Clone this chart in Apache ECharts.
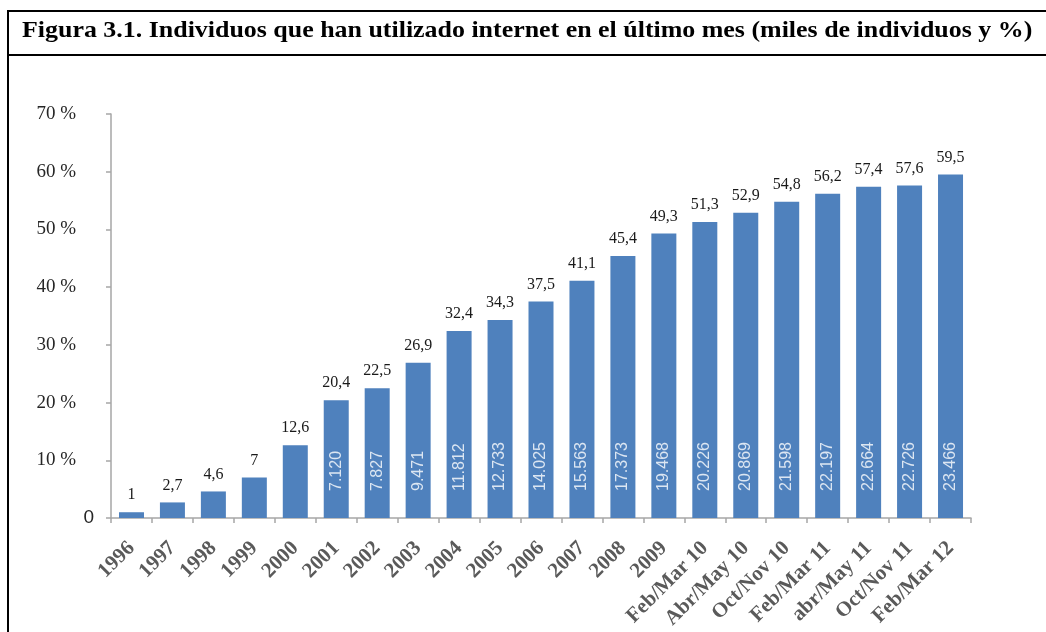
<!DOCTYPE html>
<html>
<head>
<meta charset="utf-8">
<script src="https://cdn.jsdelivr.net/npm/echarts@6/dist/echarts.min.js"></script>
<style>
html,body{margin:0;padding:0;background:#fff;}
#c{width:1046px;height:632px;}
</style>
</head>
<body>
<div id="c"></div>
<script>
var titleText = 'Figura 3.1. Individuos que han utilizado internet en el último mes (miles de individuos y %)';
var categories = ['1996','1997','1998','1999','2000','2001','2002','2003','2004','2005','2006','2007','2008','2009',
  'Feb/Mar 10','Abr/May 10','Oct/Nov 10','Feb/Mar 11','abr/May 11','Oct/Nov 11','Feb/Mar 12'];
var percentValues = [1, 2.7, 4.6, 7, 12.6, 20.4, 22.5, 26.9, 32.4, 34.3, 37.5, 41.1, 45.4, 49.3, 51.3, 52.9, 54.8, 56.2, 57.4, 57.6, 59.5];
var milesValues = [null, null, null, null, null, 7120, 7827, 9471, 11812, 12733, 14025, 15563, 17373, 19468, 20226, 20869, 21598, 22197, 22664, 22726, 23466];
var yTicks = [0, 10, 20, 30, 40, 50, 60, 70];

function fmtPct(v){ return String(v).replace('.', ','); }
function fmtMiles(v){
  if (v == null) return '';
  return String(v).replace(/\B(?=(\d{3})+(?!\d))/g, '.');
}

var chart = echarts.init(document.getElementById('c'), null, {renderer:'canvas'});
var option = {
  animation: false,
  backgroundColor: '#ffffff',
  grid: { left: 111, right: 75, top: 114, bottom: 114, containLabel: false },
  graphic: [
    { type: 'rect', shape: { x: 8, y: 11, width: 1050, height: 640 }, style: { fill: 'none', stroke: '#000', lineWidth: 2 }, z: 100 },
    { type: 'line', shape: { x1: 8, y1: 55, x2: 1050, y2: 55 }, style: { stroke: '#000', lineWidth: 2 }, z: 100 },
    { type: 'text', x: 22, y: 19, scaleX: 1.08, style: { text: titleText, font: 'bold 24px "Liberation Serif", "Times New Roman", serif', fill: '#000' }, z: 100 }
  ],
  xAxis: {
    type: 'category',
    data: categories,
    axisLine: { lineStyle: { color: '#a6a6a6', width: 1.5 } },
    axisTick: { show: true, alignWithLabel: false, length: 5, lineStyle: { color: '#a6a6a6', width: 1.5 } },
    axisLabel: {
      interval: 0, rotate: 45, margin: 27,
      fontFamily: '"Liberation Serif", "Times New Roman", serif',
      fontSize: 21, fontWeight: 'bold', color: '#5a5a5a'
    }
  },
  yAxis: {
    type: 'value',
    min: 0, max: 70, interval: 10,
    splitLine: { show: false },
    axisLine: { show: true, lineStyle: { color: '#a6a6a6', width: 1.5 } },
    axisTick: { show: true, length: 5, lineStyle: { color: '#a6a6a6', width: 1.5 } },
    axisLabel: {
      margin: 17,
      fontFamily: '"Liberation Serif", "Times New Roman", serif',
      fontSize: 19, color: '#262626',
      formatter: function(v){ return v === 0 ? '{z|0}' : '{p|' + v + ' %}'; },
      rich: {
        z: { fontFamily: '"Liberation Sans", Arial, sans-serif', fontSize: 19, color: '#262626' },
        p: { fontFamily: '"Liberation Serif", "Times New Roman", serif', fontSize: 19, color: '#262626', padding: [0, 18, 0, 0] }
      }
    }
  },
  series: [
    {
      type: 'bar',
      data: percentValues,
      barWidth: 25,
      itemStyle: { color: '#4f81bd' },
      label: {
        show: true, position: 'top', distance: 9,
        fontFamily: '"Liberation Serif", "Times New Roman", serif',
        fontSize: 16, color: '#1a1a1a',
        formatter: function(p){ return fmtPct(p.value); }
      },
      z: 2
    },
    {
      type: 'bar',
      data: percentValues,
      barWidth: 25,
      barGap: '-100%',
      itemStyle: { color: 'rgba(0,0,0,0)' },
      label: {
        show: true, position: 'insideBottom', distance: 27, rotate: 90,
        align: 'left', verticalAlign: 'middle',
        fontFamily: '"Liberation Sans", Arial, sans-serif',
        fontSize: 16, color: '#dce6f2',
        formatter: function(p){ return fmtMiles(milesValues[p.dataIndex]); }
      },
      z: 3,
      silent: true
    }
  ]
};
chart.setOption(option);
</script>
</body>
</html>
